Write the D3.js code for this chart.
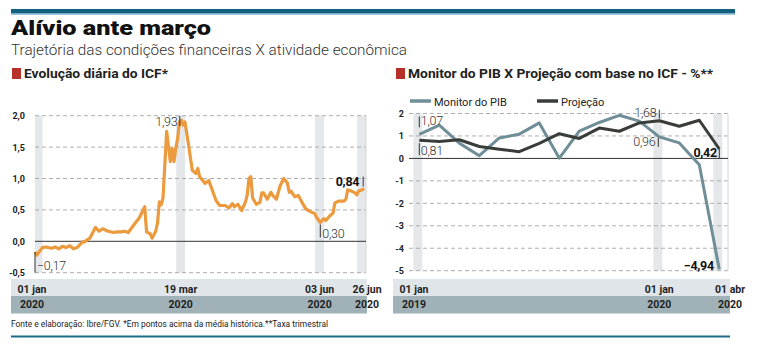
<!DOCTYPE html>
<html>
<head>
<meta charset="utf-8">
<script src="https://cdn.jsdelivr.net/npm/d3@7"></script>
<style>
  body { margin: 0; background: #fff; }
  text { font-family: Roboto, "Open Sans", sans-serif; }
</style>
</head>
<body>
<svg id="chart" width="757" height="350"></svg>
<script>
// ICF daily series (2020)
const icfDates = ["01-01","01-02","01-05","01-07","01-10","01-12","01-14","01-16","01-18","01-20",
  "01-22","01-24","01-27","01-28","01-31","02-03","02-05","02-07","02-10","02-13","02-15","02-17",
  "02-19","02-21","02-24","02-27","03-01","03-02","03-04","03-05","03-07","03-08","03-09","03-10",
  "03-11","03-12","03-13","03-15","03-16","03-17","03-18","03-19","03-20","03-21","03-22","03-23",
  "03-25","03-27","03-29","03-30","03-31","04-03","04-05","04-07","04-09","04-11","04-14","04-16",
  "04-18","04-19","04-21","04-23","04-25","04-26","04-27","04-28","04-29","05-01","05-03","05-04",
  "05-05","05-07","05-09","05-10","05-12","05-14","05-16","05-18","05-19","05-20","05-22","05-24",
  "05-26","05-28","05-30","06-02","06-03","06-05","06-07","06-08","06-10","06-12","06-13","06-15",
  "06-18","06-19","06-20","06-22","06-24","06-25","06-26","06-28","06-29"];
const icfValues = [-0.17,-0.22,-0.10,-0.09,-0.11,-0.09,-0.12,-0.08,-0.10,-0.07,
  -0.12,-0.10,-0.01,-0.01,0.05,0.22,0.16,0.20,0.16,0.14,0.15,0.15,
  0.16,0.14,0.26,0.37,0.55,0.15,0.12,0.05,0.16,0.29,0.63,0.58,
  0.69,1.22,1.75,1.27,1.48,1.27,1.48,1.64,1.90,1.93,1.85,1.90,
  1.53,1.13,1.08,1.16,1.03,0.92,0.97,0.81,0.65,0.57,0.57,0.53,
  0.60,0.55,0.59,0.49,0.62,0.73,1.00,1.03,0.69,0.59,0.62,0.77,
  0.77,0.67,0.78,0.73,0.67,0.88,1.00,0.93,0.78,0.80,0.71,0.73,
  0.62,0.52,0.48,0.44,0.38,0.30,0.36,0.33,0.40,0.45,0.61,0.64,
  0.64,0.67,0.82,0.80,0.77,0.74,0.80,0.82,0.84];
const icfTicks = [2, 1.5, 1, 0.5, 0, -0.5];
const icfMarks = ["01-01", "03-19", "06-03", "06-26"];
const icfMarkLabels = ["01 jan", "19 mar", "03 jun", "26 jun"];

// Monitor do PIB x Projecao, monthly (jan 2019 - abr 2020)
const months = ["2019-01","2019-02","2019-03","2019-04","2019-05","2019-06","2019-07","2019-08",
  "2019-09","2019-10","2019-11","2019-12","2020-01","2020-02","2020-03","2020-04"];
const monitorPib = [1.07,1.48,0.68,0.12,0.91,1.08,1.58,0.01,1.22,1.60,1.92,1.66,0.96,0.69,-0.28,-4.94];
const projecao = [0.81,0.75,0.83,0.53,0.41,0.30,0.67,1.10,0.89,1.35,1.21,1.58,1.68,1.43,1.70,0.42];
const pibTicks = [2, 1, 0, -1, -2, -3, -4, -5];
const pibMarks = ["2019-01", "2020-01", "2020-04"];
const pibMarkLabels = ["01 jan", "01 jan", "01 abr"];
const pibMarkYears = ["2019", "2020", "2020"];

const fmt = v => d3.format(".2f")(v).replace(".", ",");
const parseDay = d3.timeParse("%Y-%m-%d");

const svg = d3.select("#chart");

// header
svg.append("rect").attr("x", 11).attr("y", 9).attr("width", 724).attr("height", 4.5).attr("fill", "#125f80");
svg.append("rect").attr("x", 11).attr("y", 13.5).attr("width", 724).attr("height", 1.2).attr("fill", "#6fb0c4");
svg.append("text").attr("x", 11).attr("y", 35).text("Alívio ante março")
  .attr("font-size", 21).attr("font-weight", 900).attr("fill", "#111")
  .attr("textLength", 200).attr("lengthAdjust", "spacingAndGlyphs");
svg.append("text").attr("x", 11).attr("y", 54.5).text("Trajetória das condições financeiras X atividade econômica")
  .attr("font-size", 15).attr("font-weight", 300).attr("fill", "#333")
  .attr("textLength", 396).attr("lengthAdjust", "spacingAndGlyphs");

function sectionTitle(x, label, len) {
  svg.append("rect").attr("x", x).attr("y", 68).attr("width", 9).attr("height", 11).attr("fill", "#b8302a");
  svg.append("text").attr("x", x + 12).attr("y", 78).text(label)
    .attr("font-size", 13).attr("font-weight", 700).attr("fill", "#222")
    .attr("textLength", len).attr("lengthAdjust", "spacingAndGlyphs");
}
sectionTitle(12, "Evolução diária do ICF*", 144);
sectionTitle(396, "Monitor do PIB X Projeção com base no ICF - %**", 305);

// shared helpers
function drawGrid(g, y, ticks, x0, x1, fmtTick, labelX, anchor) {
  g.selectAll(".grid").data(ticks.filter(t => t !== 0)).join("line")
    .attr("x1", x0).attr("x2", x1).attr("y1", d => y(d)).attr("y2", d => y(d))
    .attr("stroke", "#a5a5a5").attr("stroke-width", 0.9).attr("stroke-dasharray", "4,3");
  g.selectAll(".tick").data(ticks).join("text")
    .attr("x", labelX).attr("y", d => y(d) + 3.5).attr("text-anchor", anchor)
    .attr("font-size", 9).attr("font-weight", 700).attr("fill", "#222")
    .text(fmtTick);
  g.append("line").attr("x1", x1).attr("x2", x1).attr("y1", y.range()[1]).attr("y2", y.range()[0])
    .attr("stroke", "#d6d6d6").attr("stroke-width", 1);
  g.append("line").attr("x1", x0).attr("x2", x1).attr("y1", y(0)).attr("y2", y(0))
    .attr("stroke", "#333").attr("stroke-width", 1);
}

function drawBands(g, xs, y, x0, x1) {
  g.selectAll(".band").data(xs).join("rect")
    .attr("x", d => Math.max(x0, d - 1.5))
    .attr("width", d => Math.min(x1, d + 7.5) - Math.max(x0, d - 1.5))
    .attr("y", y.range()[1]).attr("height", y.range()[0] - y.range()[1])
    .attr("fill", "#e4e8eb");
}

function drawDateStrip(g, x0, x1, xs, labels, years) {
  g.append("rect").attr("x", x0).attr("y", 279).attr("width", x1 - x0).attr("height", 17).attr("fill", "#dfe5e9");
  g.append("rect").attr("x", x0).attr("y", 296).attr("width", x1 - x0).attr("height", 17.5).attr("fill", "#a0b2b7");
  const anchorOf = i => i === 0 ? "start" : (i === xs.length - 1 ? "end" : "middle");
  const posOf = (d, i) => i === 0 ? x0 + 21 : (i === xs.length - 1 ? x1 : d);
  [labels, years].forEach((row, r) => {
    g.selectAll(".row" + r).data(xs).join("text")
      .attr("x", posOf).attr("y", r === 0 ? 293 : 307.5)
      .attr("text-anchor", anchorOf)
      .attr("font-size", 10.5).attr("font-weight", 700).attr("fill", "#1e1e1e")
      .text((d, i) => row[i]);
  });
}

function annotate(g, x, yTop, yBot, label, tx, ty, anchor, bold) {
  if (yTop !== null) {
    g.append("line").attr("x1", x).attr("x2", x).attr("y1", yTop).attr("y2", yBot)
      .attr("stroke", "#333").attr("stroke-width", 1);
  }
  g.append("text").attr("x", tx).attr("y", ty).attr("text-anchor", anchor)
    .attr("font-size", 12.5).attr("font-weight", bold ? 700 : 300)
    .attr("fill", bold ? "#111" : "#333").attr("letter-spacing", -0.3)
    .text(label);
}

// ---- left chart: ICF ----
const gL = svg.append("g");
const xL = d3.scaleTime().domain([parseDay("2020-01-01"), parseDay("2020-06-30")]).range([35, 366]);
const yL = d3.scaleLinear().domain([-0.5, 2]).range([272.7, 115.7]);
const icf = icfDates.map((d, i) => ({ date: parseDay("2020-" + d), value: icfValues[i] }));

drawBands(gL, icfMarks.map(d => xL(parseDay("2020-" + d))), yL, 35, 366);
drawGrid(gL, yL, icfTicks, 35, 366, d => d3.format(".1f")(d).replace(".", ",").replace("−", "-"), 25, "end");
drawDateStrip(gL, 11, 367, icfMarks.map(d => xL(parseDay("2020-" + d)) + 3), icfMarkLabels, icfMarkLabels.map(() => "2020"));

gL.append("path").datum(icf)
  .attr("fill", "none").attr("stroke", "#ec9a3e").attr("stroke-width", 3.2)
  .attr("stroke-linejoin", "round")
  .attr("d", d3.line().x(d => xL(d.date)).y(d => yL(d.value)));

const first = icf[0], last = icf[icf.length - 1];
const peak = icf.reduce((a, b) => b.value > a.value ? b : a);
const low = icf.filter(d => d.date > parseDay("2020-05-01")).reduce((a, b) => b.value < a.value ? b : a);
annotate(gL, xL(first.date), yL(first.value), yL(-0.5), fmt(first.value).replace("-", "-"), xL(first.date) + 2, 270, "start", false);
annotate(gL, xL(peak.date) - 1.5, yL(2), yL(peak.value) + 6, fmt(peak.value), xL(peak.date) - 4, 125.5, "end", false);
annotate(gL, xL(low.date), yL(low.value) + 2, yL(low.value) + 15, fmt(low.value), xL(low.date) + 2, 238, "start", false);
annotate(gL, xL(last.date) - 1, yL(last.value) - 12, yL(last.value) - 2, fmt(last.value), xL(last.date) - 5, 185.5, "end", true);

// ---- right chart: Monitor do PIB x Projecao ----
const gR = svg.append("g");
const xR = d3.scalePoint().domain(months).range([419.3, 719.3]);
const yR = d3.scaleLinear().domain([-5, 2]).range([270.7, 113.5]);

drawBands(gR, pibMarks.map(d => xR(d) - 4.5), yR, 409, 728);
drawGrid(gR, yR, pibTicks, 409, 728, d => String(d), 404, "end");
drawDateStrip(gR, 393, 730, pibMarks.map(d => xR(d)), pibMarkLabels, pibMarkYears);

const series = [
  { name: "Monitor do PIB", values: monitorPib, color: "#6f8e98" },
  { name: "Projeção", values: projecao, color: "#383d3a" }
];

gR.selectAll(".series").data(series).join("path")
  .attr("fill", "none").attr("stroke", d => d.color).attr("stroke-width", 3)
  .attr("stroke-linejoin", "round")
  .attr("d", s => d3.line().x((v, i) => xR(months[i])).y(v => yR(v))(s.values));

// legend
const legend = gR.selectAll(".legend").data(series).join("g")
  .attr("transform", (d, i) => `translate(${i === 0 ? 410 : 537},101)`);
legend.append("line").attr("x1", 0).attr("x2", 21).attr("stroke", d => d.color).attr("stroke-width", 3.5);
legend.append("text").attr("x", 24).attr("y", 4.5).text(d => d.name)
  .attr("font-size", 11).attr("fill", "#222");

const n = months.length - 1;
const jan20 = months.indexOf("2020-01");
annotate(gR, xR(months[0]), yR(monitorPib[0]) - 18, yR(monitorPib[0]) - 7, fmt(monitorPib[0]), xR(months[0]) + 1.5, 124.5, "start", false);
annotate(gR, xR(months[0]), yR(projecao[0]) + 3, yR(projecao[0]) + 15, fmt(projecao[0]), xR(months[0]) + 1.5, 154.5, "start", false);
annotate(gR, xR(months[jan20]), yR(projecao[jan20]) - 11, yR(projecao[jan20]) - 2, fmt(projecao[jan20]), xR(months[jan20]) - 3, 117, "end", false);
annotate(gR, xR(months[jan20]) - 1, yR(monitorPib[jan20]) + 1, yR(monitorPib[jan20]) + 10, fmt(monitorPib[jan20]), xR(months[jan20]) - 4, 145.5, "end", false);
annotate(gR, xR(months[n]), yR(projecao[n]), yR(projecao[n]) + 9, fmt(projecao[n]), xR(months[n]) - 2.5, 157, "end", true);
annotate(gR, 0, null, null, fmt(monitorPib[n]), xR(months[n]) - 5.5, 270, "end", true);

// footer
svg.append("text").attr("x", 11).attr("y", 326.5)
  .text("Fonte e elaboração: Ibre/FGV. *Em pontos acima da média histórica.**Taxa trimestral")
  .attr("font-size", 9.5).attr("fill", "#222")
  .attr("textLength", 317).attr("lengthAdjust", "spacingAndGlyphs");
svg.append("rect").attr("x", 11).attr("y", 335.5).attr("width", 719).attr("height", 2).attr("fill", "#1d6d8a");
</script>
</body>
</html>
